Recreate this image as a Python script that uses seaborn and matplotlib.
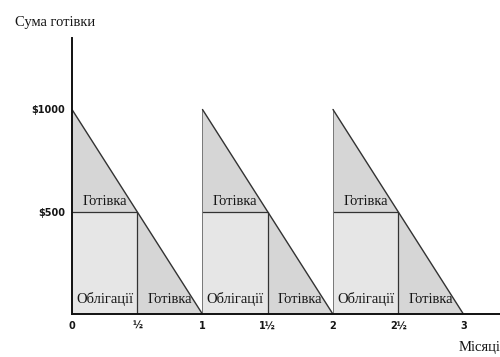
import matplotlib
matplotlib.use("Agg")
import matplotlib.pyplot as plt
import seaborn as sns
import numpy as np
import pandas as pd

# ---- data ----
cycle_starts = [0, 1, 2]          # months when $1000 is received
peak_cash = 1000                  # cash at start of each month
bond_amount = 500                 # amount held in bonds in first half
half_point = 0.5                  # bonds sold after half a month
x_tick_values = [0, 0.5, 1, 1.5, 2, 2.5, 3]
x_tick_labels = ["0", "½", "1", "1½", "2", "2½", "3"]
y_tick_values = [500, 1000]
y_tick_labels = ["$500", "$1000"]
label_top = "Готівка"
label_bonds = "Облігації"
label_cash = "Готівка"
y_title = "Сума готівки"
x_title = "Місяці"

sns.set_theme(style="white")
plt.rcParams["font.family"] = ["DejaVu Sans"]

fig = plt.figure(figsize=(5.0, 3.57), dpi=100)
ax = fig.add_axes([0.144, 0.120, 0.856, 0.774])

cash_color = "#d6d6d6"
bond_color = "#e6e6e6"
edge = "#333333"
text_color = "#151515"

# sawtooth line
saw_x, saw_y = [], []
for s in cycle_starts:
    saw_x += [s, s + 1]
    saw_y += [peak_cash, 0]
saw = pd.DataFrame({"month": saw_x, "cash": saw_y, "cycle": np.repeat(cycle_starts, 2)})

for s in cycle_starts:
    # bonds rectangle
    ax.fill_between([s, s + half_point], 0, bond_amount, color=bond_color, lw=0, zorder=1)
    # cash above bonds
    ax.fill_between([s, s + half_point], bond_amount, [peak_cash, peak_cash * (1 - half_point)],
                    color=cash_color, lw=0, zorder=1)
    # cash in second half
    ax.fill_between([s + half_point, s + 1], 0, [peak_cash * (1 - half_point), 0],
                    color=cash_color, lw=0, zorder=1)
    # rectangle edges
    ax.plot([s, s + half_point, s + half_point], [bond_amount, bond_amount, 0],
            color=edge, lw=0.9, zorder=2)
    if s > 0:
        ax.plot([s, s], [0, peak_cash], color="#777777", lw=0.7, zorder=2)
    # labels
    ax.text(s + half_point / 2, bond_amount + 20, label_top, ha="center", va="bottom",
            family="Liberation Serif", fontsize=10.5, color=text_color, zorder=3)
    ax.text(s + half_point / 2, 72, label_bonds, ha="center", va="center",
            family="Liberation Serif", fontsize=10.5, color=text_color, zorder=3)
    ax.text(s + 0.75, 72, label_cash, ha="center", va="center",
            family="Liberation Serif", fontsize=10.5, color=text_color, zorder=3)

sns.lineplot(data=saw, x="month", y="cash", units="cycle", estimator=None,
             color=edge, lw=1.0, ax=ax, zorder=2, legend=False)

ax.set_xlim(0, 3.28)
ax.set_ylim(0, 1350)
ax.set_xlabel("")
ax.set_ylabel("")
ax.set_xticks(x_tick_values)
ax.set_xticklabels(x_tick_labels, fontsize=7, fontweight="bold", color=text_color)
ax.set_yticks(y_tick_values)
ax.set_yticklabels(y_tick_labels, fontsize=7, fontweight="bold", color=text_color)
ax.tick_params(axis="both", length=0)
ax.tick_params(axis="x", pad=5)
ax.tick_params(axis="y", pad=5)

for side in ["top", "right"]:
    ax.spines[side].set_visible(False)
for side in ["left", "bottom"]:
    ax.spines[side].set_color("#111111")
    ax.spines[side].set_linewidth(1.4)

fig.text(0.03, 0.938, y_title, family="Liberation Serif", fontsize=10.5,
         ha="left", va="center", color=text_color)
fig.text(0.918, 0.027, x_title, family="Liberation Serif", fontsize=10.5,
         ha="left", va="center", color=text_color)

fig.savefig("out.png", dpi=100)
